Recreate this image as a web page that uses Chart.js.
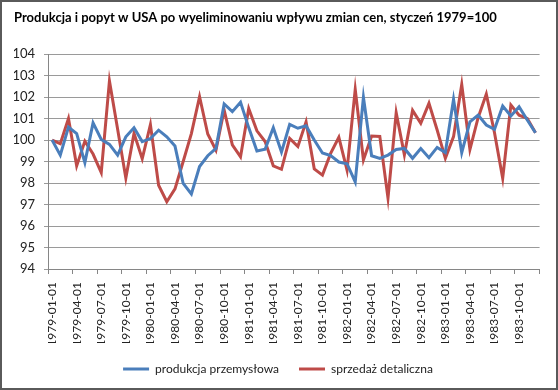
<!DOCTYPE html>
<html><head><meta charset="utf-8">
<script src="https://cdn.jsdelivr.net/npm/chart.js@4.4.1/dist/chart.umd.min.js"></script>
<style>html,body{margin:0;padding:0;background:#fff}#wrap{width:558px;height:390px;position:relative}</style>
</head><body><div id="wrap"><canvas id="c" width="558" height="390"></canvas></div>
<script>
const categories = [
 '1979-01-01','1979-02-01','1979-03-01','1979-04-01','1979-05-01','1979-06-01','1979-07-01','1979-08-01','1979-09-01','1979-10-01','1979-11-01','1979-12-01',
 '1980-01-01','1980-02-01','1980-03-01','1980-04-01','1980-05-01','1980-06-01','1980-07-01','1980-08-01','1980-09-01','1980-10-01','1980-11-01','1980-12-01',
 '1981-01-01','1981-02-01','1981-03-01','1981-04-01','1981-05-01','1981-06-01','1981-07-01','1981-08-01','1981-09-01','1981-10-01','1981-11-01','1981-12-01',
 '1982-01-01','1982-02-01','1982-03-01','1982-04-01','1982-05-01','1982-06-01','1982-07-01','1982-08-01','1982-09-01','1982-10-01','1982-11-01','1982-12-01',
 '1983-01-01','1983-02-01','1983-03-01','1983-04-01','1983-05-01','1983-06-01','1983-07-01','1983-08-01','1983-09-01','1983-10-01','1983-11-01','1983-12-01'
];
const produkcja = [
 100.0, 99.3, 100.6, 100.3, 98.95, 100.8, 100.03, 99.8, 99.3, 100.15, 100.57, 99.93,
 100.07, 100.46, 100.15, 99.72, 97.98, 97.49, 98.77, 99.27, 99.61, 101.68, 101.32, 101.76,
 100.58, 99.49, 99.57, 100.57, 99.44, 100.73, 100.55, 100.66, 100.0, 99.4, 99.28, 98.98,
 98.9, 98.05, 101.99, 99.27, 99.15, 99.3, 99.56, 99.61, 99.15, 99.61, 99.18, 99.66,
 99.42, 101.89, 99.41, 100.85, 101.16, 100.7, 100.5, 101.58, 101.12, 101.55, 100.93, 100.34
];
const sprzedaz = [
 100.0, 99.83, 101.0, 98.8, 99.95, 99.35, 98.49, 102.75, 100.5, 98.23, 100.31, 99.13,
 100.72, 97.9, 97.13, 97.73, 99.0, 100.3, 102.02, 100.28, 99.53, 101.4, 99.78, 99.22,
 101.47, 100.43, 99.93, 98.8, 98.64, 100.08, 99.7, 100.85, 98.66, 98.37, 99.38, 100.13,
 98.6, 102.36, 99.07, 100.19, 100.17, 97.3, 101.27, 99.31, 101.38, 100.78, 101.71, 100.47,
 99.15, 100.16, 102.59, 99.56, 101.04, 102.14, 100.34, 98.22, 101.63, 101.16, 101.01, 100.34
];
const seriesNames = ['produkcja przemysłowa', 'sprzedaż detaliczna'];
const titleText = 'Produkcja i popyt w USA po wyeliminowaniu wpływu zmian cen, styczeń 1979=100';
const yMin = 94, yMax = 104, yStep = 1;
const labelEvery = 3;

const FONT = 'Lato, "Open Sans", sans-serif';
const frame = {
  id: 'frame',
  beforeDraw(chart) {
    const c = chart.ctx;
    c.save(); c.fillStyle = '#fff'; c.fillRect(0, 0, chart.width, chart.height); c.restore();
  },
  afterDraw(chart) {
    const c = chart.ctx;
    c.save(); c.strokeStyle = '#5a5a5a'; c.lineWidth = 2;
    c.strokeRect(1, 1, chart.width - 2, chart.height - 2); c.restore();
  }
};

new Chart(document.getElementById('c'), {
  type: 'line',
  data: {
    labels: categories,
    datasets: [
      { label: seriesNames[0], data: produkcja, borderColor: '#4a7ebb', backgroundColor: '#4a7ebb', borderWidth: 3, pointRadius: 0, tension: 0 },
      { label: seriesNames[1], data: sprzedaz, borderColor: '#be4b48', backgroundColor: '#be4b48', borderWidth: 3, pointRadius: 0, tension: 0 }
    ]
  },
  options: {
    responsive: false, animation: false, devicePixelRatio: 1,
    layout: { padding: { left: 14, right: 16, top: 2, bottom: 5 } },
    plugins: {
      title: { display: true, text: titleText, align: 'start', color: '#000',
        font: { family: FONT, size: 13, weight: 'bold' }, padding: { top: 8.5, bottom: 28 } },
      legend: { position: 'bottom',
        labels: { usePointStyle: true, pointStyle: 'line', pointStyleWidth: 26, boxHeight: 12, padding: 20,
          color: '#222', font: { family: FONT, size: 12 } } },
      tooltip: { enabled: false }
    },
    scales: {
      x: {
        offset: true,
        grid: { offset: true, drawOnChartArea: false, tickLength: 5,
          tickColor: c => (c.type !== 'tick' || c.index % labelEvery === 0) ? '#868686' : 'rgba(0,0,0,0)' },
        border: { color: '#868686' },
        ticks: { autoSkip: false, minRotation: 90, maxRotation: 90, padding: 8, color: '#222',
          font: { family: FONT, size: 12 },
          callback: (v, i) => i % labelEvery === 0 ? categories[i] : '' },
        afterFit: s => { s.height = 74; }
      },
      y: {
        min: yMin, max: yMax,
        ticks: { stepSize: yStep, padding: 9, color: '#222', font: { family: FONT, size: 13 } },
        grid: { color: '#9a9a9a', tickLength: 4 },
        border: { color: '#868686' },
        afterFit: s => { s.width = 34; }
      }
    }
  },
  plugins: [frame]
});
</script></body></html>
